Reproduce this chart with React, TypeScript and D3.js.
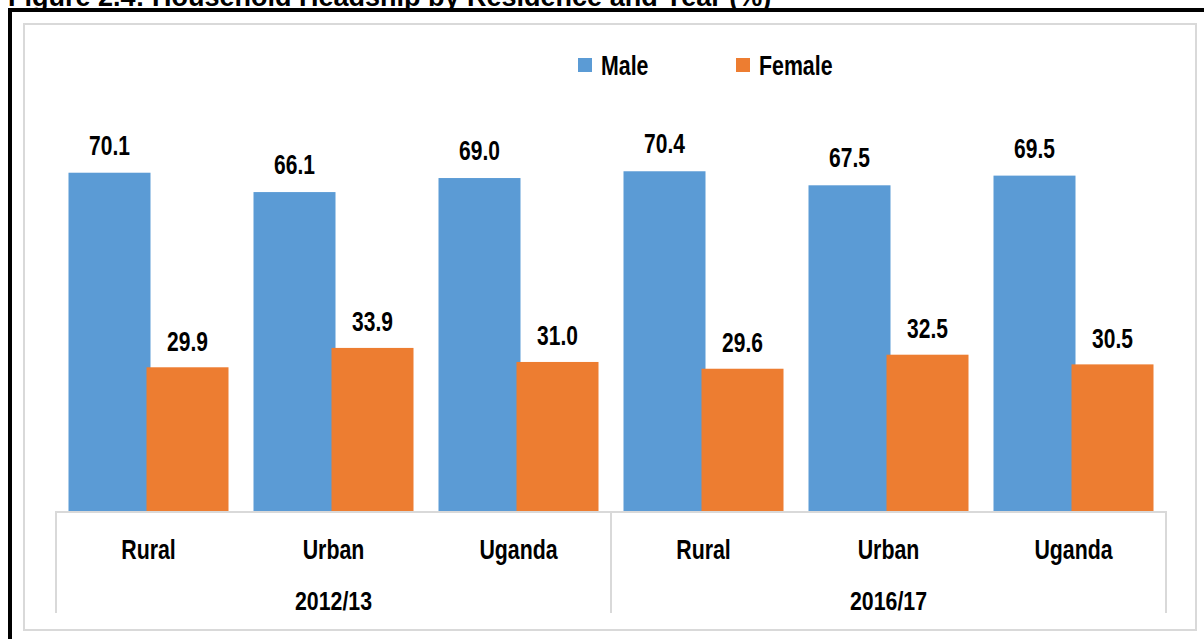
import React from "react";
import * as d3 from "d3";

const categories = ["Rural", "Urban", "Uganda", "Rural", "Urban", "Uganda"];
const years = ["2012/13", "2016/17"];
const maleValues = [70.1, 66.1, 69.0, 70.4, 67.5, 69.5];
const femaleValues = [29.9, 33.9, 31.0, 29.6, 32.5, 30.5];
const seriesNames = ["Male", "Female"];
const colors = ["#5B9BD5", "#ED7D31"];
const title = "Figure 2.4: Household Headship by Residence and Year (%)";

const W = 1204;
const H = 639;
const FONT = "'Liberation Sans', Arial, Helvetica, sans-serif";

export default function App() {
  const idx = categories.map((_, i) => i);
  const x = d3.scaleBand<number>().domain(idx).range([56, 1166]).paddingInner(0).paddingOuter(0);
  const y = d3.scaleLinear().domain([0, 100]).range([512, 28]);
  const yearBand = d3.scaleBand<number>().domain([0, 1]).range([56, 1166]);
  const bw = x.bandwidth();
  const barW = 82;
  const pairW = 160;
  const offset = (bw - pairW) / 2;
  const femaleOffset = pairW - barW;

  const label = (tx: number, ty: number, text: string, size = 26, sx = 0.8) => (
    <text
      transform={`translate(${tx},${ty}) scale(${sx},1)`}
      textAnchor="middle"
      fontFamily={FONT}
      fontWeight="bold"
      fontSize={size}
      fill="#000"
    >
      {text}
    </text>
  );

  return (
    <svg
      width={W}
      height={H}
      style={{ position: "absolute", left: 0, top: 0, background: "#fff" }}
    >
      <rect x={0} y={0} width={W} height={H} fill="#fff" />
      {/* title (mostly cut off at top, as in the reference) */}
      <text x={8} y={6} fontFamily={FONT} fontWeight="bold" fontSize={27} fill="#000">
        {title}
      </text>
      {/* outer black frame */}
      <rect x={10} y={10} width={W + 20} height={H + 20} fill="#fff" stroke="#000" strokeWidth={4} />
      {/* chart area border */}
      <rect x={24} y={24} width={1172} height={606} fill="#fff" stroke="#D9D9D9" strokeWidth={2} />

      {/* legend */}
      {seriesNames.map((s, i) => {
        const lx = [578, 736][i];
        return (
          <g key={s}>
            <rect x={lx} y={58} width={14} height={14} fill={colors[i]} />
            <text
              transform={`translate(${lx + 23},74.5) scale(0.79,1)`}
              fontFamily={FONT}
              fontWeight="bold"
              fontSize={27}
              fill="#000"
            >
              {s}
            </text>
          </g>
        );
      })}

      {/* bars */}
      {idx.map((i) => {
        const x0 = (x(i) as number) + offset;
        const mTop = y(maleValues[i]);
        const fTop = y(femaleValues[i]);
        return (
          <g key={i}>
            <rect x={x0} y={mTop} width={barW} height={y(0) - mTop} fill={colors[0]} />
            <rect x={x0 + femaleOffset} y={fTop} width={barW} height={y(0) - fTop} fill={colors[1]} />
            {label(x0 + barW / 2, mTop - 18, maleValues[i].toFixed(1), 28, 0.75)}
            {label(x0 + femaleOffset + barW / 2, fTop - 16.5, femaleValues[i].toFixed(1), 28, 0.75)}
          </g>
        );
      })}

      {/* axis */}
      <line x1={55} x2={1167} y1={512} y2={512} stroke="#D9D9D9" strokeWidth={2} />
      {[56, 611, 1166].map((vx) => (
        <line key={vx} x1={vx} x2={vx} y1={512} y2={613} stroke="#D9D9D9" strokeWidth={2} />
      ))}
      {idx.map((i) => (
        <g key={"c" + i}>{label((x(i) as number) + bw / 2, 559, categories[i], 27, 0.79)}</g>
      ))}
      {years.map((yr, j) => (
        <g key={yr}>{label((yearBand(j) as number) + yearBand.bandwidth() / 2, 610, yr, 26, 0.82)}</g>
      ))}
    </svg>
  );
}
